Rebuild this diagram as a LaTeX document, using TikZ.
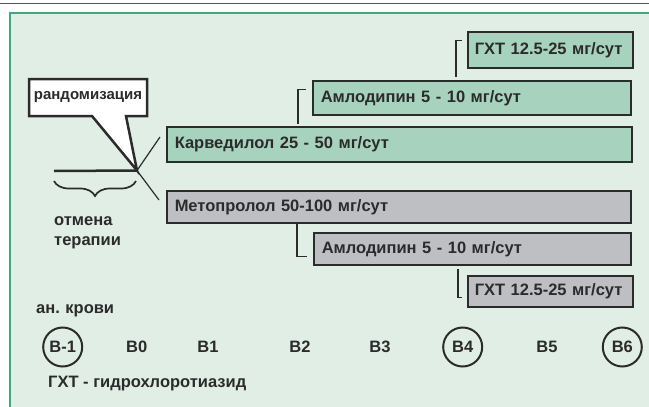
\documentclass[tikz,border=0pt]{standalone}
\usepackage{fontspec}
\setmainfont{Liberation Sans}
\usetikzlibrary{decorations.pathreplacing}
\definecolor{panel}{HTML}{E1EEE6}
\definecolor{panelborder}{HTML}{3DAA7B}
\definecolor{gbox}{HTML}{A7D3BE}
\definecolor{graybox}{HTML}{BEBFC3}
\definecolor{ink}{HTML}{2B2B2B}
\tikzset{
  base/.style={font=\bfseries\fontsize{16.5}{19}\selectfont, text=ink},
  drugbox/.style={base, draw=ink, line width=1.5pt, anchor=west, inner xsep=8pt, inner ysep=0pt, align=left},
  greenbox/.style={drugbox, fill=gbox},
  greybox/.style={drugbox, fill=graybox},
  link/.style={draw=ink, line width=1.2pt},
  visit/.style={base, inner sep=0pt},
  ringed/.style={visit, circle, draw=ink, line width=2pt, minimum size=39pt},
}
\begin{document}
\begin{tikzpicture}[x=1pt,y=-1pt]
\useasboundingbox (0,0) rectangle (649,407);
\fill[white] (0,0) rectangle (649,407);
\draw[ink!80, line width=1.6pt] (0,3.5) -- (649,3.5);
\fill[panel] (10,13) rectangle (652,410);
\draw[panelborder, line width=1.3pt] (10,410) -- (10,13) -- (652,13);

% drug boxes
\node[greenbox, minimum height=36pt, text width=151pt, inner xsep=7pt] (ghtA) at (467,50) {ГХТ 12.5-25 мг/сут};
\node[greenbox, minimum height=34pt, text width=302pt] (amlA) at (312,98) {Амлодипин 5 - 10 мг/сут};
\node[greenbox, minimum height=35pt, text width=449pt] (carv) at (166,144.5) {Карведилол 25 - 50 мг/сут};
\node[greybox, minimum height=32pt, text width=448pt] (meto) at (166,207) {Метопролол 50-100 мг/сут};
\node[greybox, minimum height=32pt, text width=301pt] (amlB) at (313,249) {Амлодипин 5 - 10 мг/сут};
\node[greybox, minimum height=31pt, text width=151pt, inner xsep=7pt] (ghtB) at (467,291.5) {ГХТ 12.5-25 мг/сут};

% connectors between boxes
\draw[link] ([shift={(-5,9)}]ghtA.north west) -| ([shift={(144,-3)}]amlA.north west);
\draw[link] ([shift={(-6,9)}]amlA.north west) -| ([shift={(132,-2)}]carv.north west);
\draw[link] ([xshift=131pt]meto.south west) |- ([shift={(-6,24)}]amlB.north west);
\draw[link] ([shift={(145,3)}]amlB.south west) |- ([shift={(-5,22)}]ghtB.north west);

% randomisation callout
\coordinate (tip) at (137,170.5);
\draw[ink, line width=2.5pt, fill=white, line join=miter]
  (29,79) -- (147,79) -- (147,116) -- (126,116) -- (tip) -- (92,116) -- (29,116) -- cycle;
\node[base, font=\bfseries\fontsize{15}{18}\selectfont] (rand) at (88,97.5) {рандомизация};
\draw[ink, line width=2.5pt] (54,171) -- (tip);
\coordinate (upEnd) at (160,137);
\coordinate (downEnd) at (159,200);
\draw[link] (tip) -- (upEnd);
\draw[link] (tip) -- (downEnd);
\draw[ink, line width=1.7pt, decorate, decoration={brace, amplitude=15pt}] (136,181) -- (54,181);
\node[base, anchor=west, align=left, inner sep=0pt, font=\bfseries\fontsize{16.5}{20}\selectfont] (stop) at (54,233) {отмена\\терапии};

% visits
\node[base, anchor=west, inner sep=0pt] (blood) at (36,311) {ан.\,\,крови};
\node[ringed] (vm1) at (62.7,347) {B-1};
\node[visit] (v0) at (136.7,347) {B0};
\node[visit] (v1) at (208,347) {B1};
\node[visit] (v2) at (300,347) {B2};
\node[visit] (v3) at (380,347) {B3};
\node[ringed] (v4) at (462.7,347) {B4};
\node[visit] (v5) at (547,347) {B5};
\node[ringed] (v6) at (622.3,347) {B6};
\node[base, anchor=west, inner sep=0pt] (legend) at (48,384) {ГХТ - гидрохлоротиазид};
\end{tikzpicture}
\end{document}
